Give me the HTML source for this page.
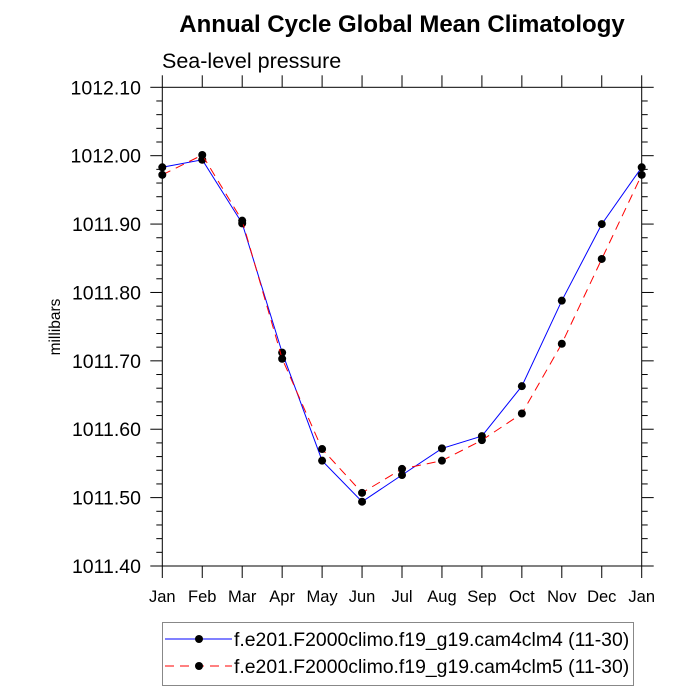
<!DOCTYPE html>
<html><head><meta charset="utf-8"><style>
html,body{margin:0;padding:0;background:#fff;}
svg{display:block;font-family:"Liberation Sans",sans-serif;}
</style></head><body>
<svg id="chart" width="700" height="700" viewBox="0 0 700 700" xmlns="http://www.w3.org/2000/svg">
<text x="402" y="32" text-anchor="middle" font-size="24" font-weight="bold">Annual Cycle Global Mean Climatology</text>
<text x="162" y="68" font-size="21.5">Sea-level pressure</text>
<text transform="translate(60,327) rotate(-90)" text-anchor="middle" font-size="15.5">millibars</text>
<g id="axes"></g>
<g id="series"></g>
<g>
<rect x="162.5" y="622.5" width="471" height="63" fill="none" stroke="#888" stroke-width="1"/>
<g>
<line x1="165" y1="639" x2="232" y2="639" stroke="#0000ff" stroke-width="1"/>
<circle cx="199" cy="639" r="4" fill="#000"/>
<text x="234" y="646" font-size="19.4">f.e201.F2000climo.f19_g19.cam4clm4 (11-30)</text>
</g>
<g>
<line x1="165" y1="666" x2="232" y2="666" stroke="#ff0000" stroke-width="1" stroke-dasharray="9,6"/>
<circle cx="199" cy="666" r="4" fill="#000"/>
<text x="234" y="673" font-size="19.4">f.e201.F2000climo.f19_g19.cam4clm5 (11-30)</text>
</g>
</g>
</svg>
<script>
const months = ["Jan","Feb","Mar","Apr","May","Jun","Jul","Aug","Sep","Oct","Nov","Dec","Jan"];
const clm4 = [1011.983,1011.994,1011.901,1011.712,1011.554,1011.494,1011.533,1011.572,1011.590,1011.663,1011.788,1011.900,1011.983];
const clm5 = [1011.972,1012.001,1011.905,1011.703,1011.571,1011.507,1011.542,1011.554,1011.584,1011.623,1011.725,1011.849,1011.972];
const yTicks = [1011.40,1011.50,1011.60,1011.70,1011.80,1011.90,1012.00,1012.10];
const yMin = 1011.40, yMax = 1012.10;
const L=162.3, R=641.7, T=87.3, B=566;
const NS="http://www.w3.org/2000/svg";
function xS(i){return L+(R-L)*i/(months.length-1);}
function yS(v){return B-(B-T)*(v-yMin)/(yMax-yMin);}
function mk(tag,attrs,parent){const e=document.createElementNS(NS,tag);for(const k in attrs)e.setAttribute(k,attrs[k]);parent.appendChild(e);return e;}
const ax=document.getElementById('axes');
const frame=mk('rect',{x:L,y:T,width:R-L,height:B-T,fill:'none',stroke:'#000','stroke-width':1},ax);


months.forEach((m,i)=>{
  const x=xS(i);
  mk('line',{x1:x,y1:B,x2:x,y2:B+12,stroke:'#000'},ax);
  mk('line',{x1:x,y1:T,x2:x,y2:T-12,stroke:'#000'},ax);
  const t=mk('text',{x:x,y:B+36,'text-anchor':'middle','font-size':16.5},ax);
  t.textContent=m;
  
  
});
for(let k=0;k<(yTicks.length-1)*5;k++){
  const v=yMin+k*0.02;
  if(k%5===0) continue;
  const y=yS(v);
  mk('line',{x1:L,y1:y,x2:L-6,y2:y,stroke:'#000'},ax);
  mk('line',{x1:R,y1:y,x2:R+6,y2:y,stroke:'#000'},ax);
}
yTicks.forEach(v=>{
  const y=yS(v);
  mk('line',{x1:L,y1:y,x2:L-12,y2:y,stroke:'#000'},ax);
  mk('line',{x1:R,y1:y,x2:R+12,y2:y,stroke:'#000'},ax);
  const t=mk('text',{x:141,y:y+7,'text-anchor':'end','font-size':19.5},ax);
  t.textContent=v.toFixed(2);
  
  
});
const sg=document.getElementById('series');
function drawSeries(vals,color,dash,name){
  const pts=vals.map((v,i)=>xS(i).toFixed(1)+','+yS(v).toFixed(1)).join(' ');
  const pl=mk('polyline',{points:pts,fill:'none',stroke:color,'stroke-width':1},sg);
  if(dash) pl.setAttribute('stroke-dasharray',dash);
  
  
  vals.forEach((v,i)=>{
    const c=mk('circle',{cx:xS(i),cy:yS(v),r:4,fill:'#000'},sg);
    
    
  });
}
drawSeries(clm4,'#0000ff',null,'clm4');
drawSeries(clm5,'#ff0000','9,6','clm5');
</script>
</body></html>
